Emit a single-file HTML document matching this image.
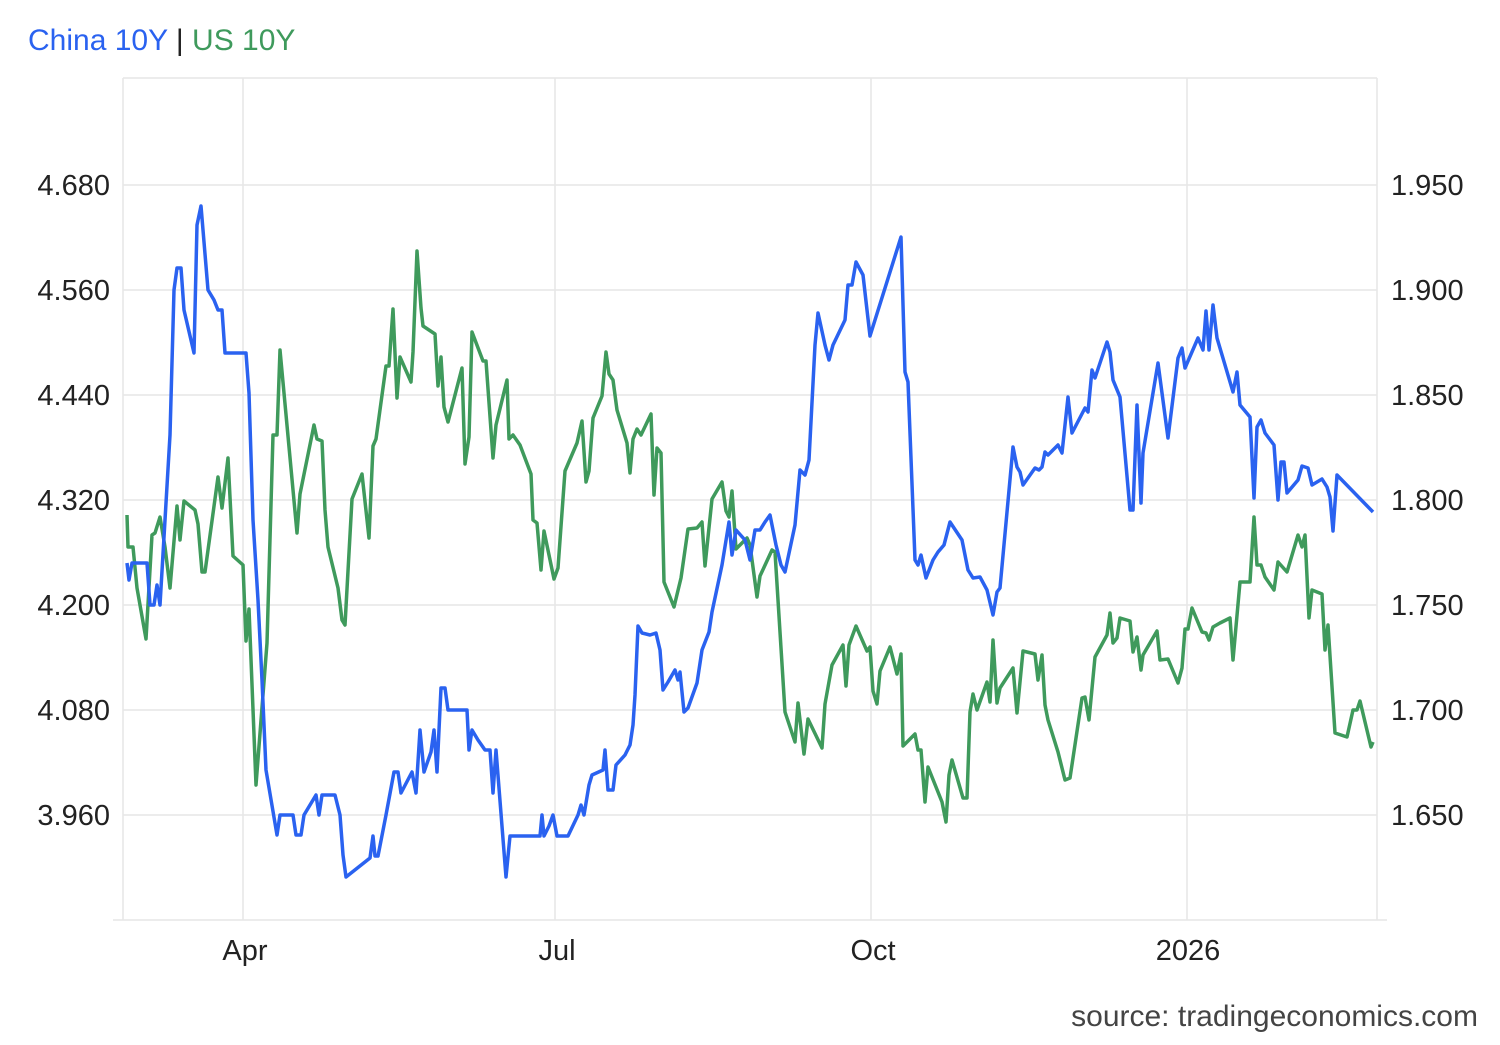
<!DOCTYPE html>
<html><head><meta charset="utf-8"><style>
html,body{margin:0;padding:0;background:#fff;}
body{width:1500px;height:1040px;overflow:hidden;font-family:"Liberation Sans",sans-serif;}
</style></head><body>
<svg width="1500" height="1040" xmlns="http://www.w3.org/2000/svg" font-family="Liberation Sans, sans-serif">
<g stroke="#e6e6e6" stroke-width="1.5">
<line x1="123" y1="78" x2="1377" y2="78"/>
<line x1="123" y1="185" x2="1377" y2="185"/>
<line x1="123" y1="290" x2="1377" y2="290"/>
<line x1="123" y1="395" x2="1377" y2="395"/>
<line x1="123" y1="500" x2="1377" y2="500"/>
<line x1="123" y1="605" x2="1377" y2="605"/>
<line x1="123" y1="710" x2="1377" y2="710"/>
<line x1="123" y1="815" x2="1377" y2="815"/>
<line x1="113" y1="920" x2="1387" y2="920"/>
<line x1="123" y1="78" x2="123" y2="920"/>
<line x1="243" y1="78" x2="243" y2="920"/>
<line x1="555" y1="78" x2="555" y2="920"/>
<line x1="871" y1="78" x2="871" y2="920"/>
<line x1="1187" y1="78" x2="1187" y2="920"/>
<line x1="1377" y1="78" x2="1377" y2="920"/>
</g>
<g font-size="29" fill="#222" text-anchor="end">
<text x="110" y="195">4.680</text><text x="110" y="300">4.560</text><text x="110" y="405">4.440</text>
<text x="110" y="510">4.320</text><text x="110" y="615">4.200</text><text x="110" y="720">4.080</text><text x="110" y="825">3.960</text>
</g>
<g font-size="29" fill="#222">
<text x="1391" y="195">1.950</text><text x="1391" y="300">1.900</text><text x="1391" y="405">1.850</text>
<text x="1391" y="510">1.800</text><text x="1391" y="615">1.750</text><text x="1391" y="720">1.700</text><text x="1391" y="825">1.650</text>
</g>
<g font-size="29" fill="#222" text-anchor="middle">
<text x="245" y="960">Apr</text><text x="557" y="960">Jul</text><text x="873" y="960">Oct</text><text x="1188" y="960">2026</text>
</g>
<text x="28" y="50" font-size="30"><tspan fill="#2a62f0">China 10Y</tspan><tspan fill="#222"> | </tspan><tspan fill="#3f9a5c">US 10Y</tspan></text>
<text x="1478" y="1026" font-size="30" fill="#444" text-anchor="end">source: tradingeconomics.com</text>
<polyline fill="none" stroke="#3f9a5c" stroke-width="3.5" stroke-linejoin="round" points="127,515 128,547 133,547 137,588 146,639 152,535 155,533 160,517 165,547 170,588 177,506 180,540 184,501 195,510 198,524 202,572 205,572 218,477 222,508 228,458 233,556 243,565 246,641 249,609 256,785 267,643 273,435 277,435 280,350 297,533 300,494 314,425 317,439 322,441 325,510 328,547 338,588 342,620 345,625 352,499 362,474 369,538 373,446 376,439 386,366 389,366 393,309 397,398 400,357 411,382 413,352 417,251 421,308 423,326 435,334 438,386 441,357 444,407 448,422 462,368 465,464 469,437 472,332 483,361 486,361 493,458 496,425 507,380 509,439 513,435 520,445 531,474 533,520 537,523 541,570 544,531 554,579 558,568 565,471 577,443 582,421 586,482 589,471 593,418 602,396 606,352 609,374 613,380 617,410 627,443 630,473 633,439 637,429 641,435 651,414 654,495 657,448 661,453 664,582 674,607 681,578 688,529 697,528 702,522 705,566 712,499 722,482 726,511 729,517 732,491 736,549 747,538 750,545 757,597 760,576 772,550 775,552 785,712 795,742 798,703 804,754 808,719 822,748 825,704 832,665 843,645 846,686 849,645 856,626 867,651 870,647 873,691 877,704 880,671 890,647 897,674 901,654 903,746 915,734 918,750 921,750 925,802 928,767 942,802 946,822 949,775 952,760 963,798 967,798 970,712 973,694 977,710 987,682 990,702 993,640 997,703 1000,688 1013,668 1017,713 1023,651 1035,654 1038,680 1042,655 1045,705 1048,720 1058,752 1065,780 1070,778 1082,698 1085,697 1089,720 1095,657 1107,635 1110,613 1113,643 1117,638 1120,618 1130,621 1133,652 1137,637 1141,670 1143,655 1157,631 1160,660 1168,659 1178,683 1182,668 1185,629 1188,629 1192,608 1202,632 1206,633 1209,640 1213,627 1220,623 1230,618 1233,660 1240,582 1250,582 1254,517 1257,565 1261,565 1265,577 1274,590 1278,562 1287,572 1298,535 1302,547 1305,535 1309,618 1312,590 1322,594 1325,650 1328,625 1335,733 1347,737 1353,710 1357,710 1360,701 1371,747 1373,742"/>
<polyline fill="none" stroke="#2a62f0" stroke-width="3.5" stroke-linejoin="round" points="127,563 129,580 132,563 147,563 150,605 154,605 157,585 160,605 165,520 170,435 174,290 177,268 181,268 184,310 194,353 197,225 201,206 208,290 214,300 218,310 222,310 225,353 246,353 249,393 253,520 258,600 262,680 266,770 277,835 280,815 293,815 296,835 301,835 304,815 316,795 319,815 322,795 335,795 340,815 343,855 346,877 370,858 373,836 375,856 378,856 386,815 394,772 398,772 401,793 412,772 416,793 420,730 424,772 431,752 434,730 437,772 441,688 445,688 448,710 467,710 469,750 472,730 478,740 485,750 490,750 493,793 496,750 506,877 510,836 540,836 542,815 544,836 549,826 553,815 557,836 568,836 578,815 581,805 584,815 589,785 592,775 603,770 605,750 608,790 613,790 616,765 625,755 630,745 633,725 635,695 638,626 642,633 650,635 656,633 660,650 663,690 668,682 675,670 678,680 680,672 684,712 688,708 697,683 702,650 709,632 712,612 722,565 729,522 732,555 736,530 745,540 750,560 755,530 760,530 765,522 770,515 776,545 781,565 785,572 795,525 800,470 805,475 809,460 815,345 818,313 825,345 829,360 833,345 845,320 848,285 852,285 856,262 863,275 867,310 870,336 901,237 905,372 908,382 915,560 918,565 921,555 926,578 933,560 938,552 944,545 950,522 962,540 968,570 973,578 980,577 987,590 993,615 997,592 1000,588 1013,447 1017,467 1020,472 1023,485 1035,468 1039,470 1042,467 1045,452 1048,455 1058,445 1062,453 1068,397 1072,433 1085,408 1088,412 1092,370 1095,378 1107,342 1110,352 1113,380 1120,397 1130,510 1133,510 1137,405 1141,503 1143,453 1158,363 1168,438 1178,358 1182,348 1185,368 1198,338 1203,350 1206,311 1209,350 1213,305 1217,338 1233,392 1237,372 1240,405 1250,417 1254,498 1257,427 1261,420 1265,433 1274,445 1278,500 1281,462 1284,462 1287,493 1298,480 1302,466 1308,468 1312,485 1322,479 1327,487 1330,497 1333,531 1337,475 1373,512"/>
</svg>
</body></html>
